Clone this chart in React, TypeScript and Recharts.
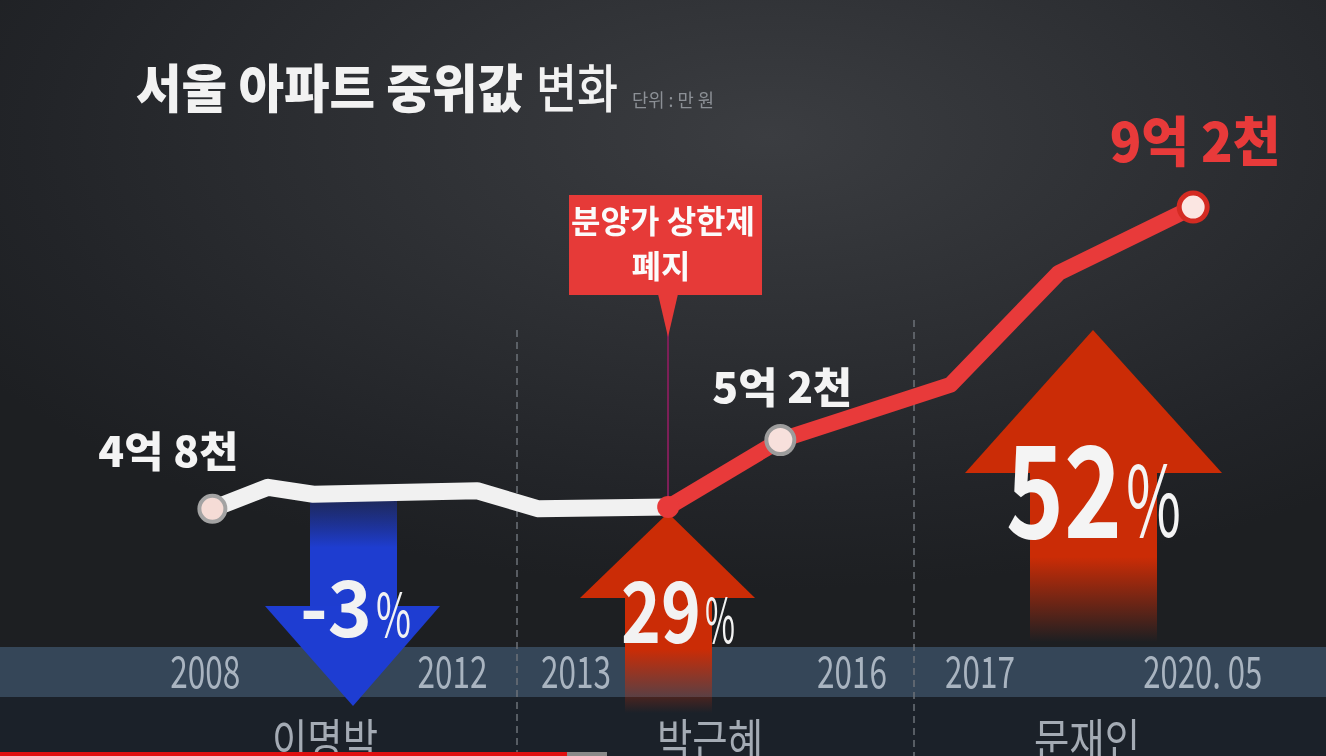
import { Line, LineChart, XAxis, YAxis } from "recharts";

// time axis in fractional years, values in 만원
const periods = [2008.0, 2008.7, 2009.27, 2011.33, 2012.1, 2013.73, 2015.14, 2017.28, 2018.64, 2020.33];
const beforeCap = [40200, 43900, 42700, 43300, 40200, 40500, null, null, null, null];
const afterCap = [null, null, null, null, null, 40500, 52000, 61500, 80700, 92000];
const pointLabels = ["4억 8천", "", "", "", "", "", "5억 2천", "", "", "9억 2천"];

const yearTicks = [2007.91, 2011.02, 2012.57, 2016.04, 2017.65, 2020.45];
const yearLabels = ["2008", "2012", "2013", "2016", "2017", "2020. 05"];

const presidents = ["이명박", "박근혜", "문재인"];
const changes = ["-3", "29", "52"];

const rows = periods.map((t, i) => ({
  t,
  white: beforeCap[i],
  red: afterCap[i],
}));

const FONT = "'Noto Sans CJK KR', 'Noto Sans', sans-serif";
const RED = "#e83a3a";
const ARROW_RED = "#cb2c06";

function YearTick(props: any) {
  const { x, index } = props;
  const label = yearLabels[index] ?? "";
  return (
    <text
      x={x}
      y={688}
      textAnchor="middle"
      fontFamily={FONT}
      fontSize={44}
      fill="#a9b4c0"
      textLength={label.length > 4 ? 119 : 70}
      lengthAdjust="spacingAndGlyphs"
    >
      {label}
    </text>
  );
}

function renderDot(props: any) {
  const { cx, cy, index, dataKey } = props;
  const key = `${dataKey}-${index}`;
  if (cx == null || cy == null) return <g key={key} />;
  const label = pointLabels[index];

  if (dataKey === "white") {
    if (index !== 0) return <g key={key} />;
    return (
      <g key={key}>
        <circle cx={cx} cy={cy} r={13} fill="#f5dcd6" stroke="#a3a3a3" strokeWidth={4} />
        <text
          x={cx - 44}
          y={cy - 42}
          textAnchor="middle"
          fontFamily={FONT}
          fontWeight={800}
          fontSize={42}
          fill="#f4f4f4"
          textLength={140}
          lengthAdjust="spacingAndGlyphs"
        >
          {label}
        </text>
      </g>
    );
  }

  // red series
  if (index === 5) {
    return <circle key={key} cx={cx} cy={cy} r={11} fill={RED} />;
  }
  if (index === 6) {
    return (
      <g key={key}>
        <circle cx={cx} cy={cy} r={14} fill="#f7e0dc" stroke="#9c9c9c" strokeWidth={4} />
        <text
          x={cx + 2}
          y={cy - 37}
          textAnchor="middle"
          fontFamily={FONT}
          fontWeight={800}
          fontSize={42}
          fill="#f4f4f4"
          textLength={140}
          lengthAdjust="spacingAndGlyphs"
        >
          {label}
        </text>
      </g>
    );
  }
  if (index === 9) {
    return (
      <g key={key}>
        <circle cx={cx} cy={cy} r={14} fill="#fbe6e2" stroke="#d42b22" strokeWidth={5} />
        <text
          x={cx + 2}
          y={cy - 45}
          textAnchor="middle"
          fontFamily={FONT}
          fontWeight={800}
          fontSize={54}
          fill={RED}
          textLength={171}
          lengthAdjust="spacingAndGlyphs"
        >
          {label}
        </text>
      </g>
    );
  }
  return <g key={key} />;
}

function Backdrop() {
  return (
    <svg width={1326} height={756} style={{ position: "absolute", left: 0, top: 0 }}>
      <defs>
        <linearGradient id="blueStem" x1="0" y1="0" x2="0" y2="1">
          <stop offset="0%" stopColor="#1c36b8" stopOpacity={0.35} />
          <stop offset="45%" stopColor="#1e3dd0" stopOpacity={1} />
          <stop offset="100%" stopColor="#1e3dd0" stopOpacity={1} />
        </linearGradient>
        <linearGradient id="redStemA" x1="0" y1="0" x2="0" y2="1">
          <stop offset="0%" stopColor={ARROW_RED} stopOpacity={1} />
          <stop offset="45%" stopColor={ARROW_RED} stopOpacity={1} />
          <stop offset="100%" stopColor={ARROW_RED} stopOpacity={0} />
        </linearGradient>
        <linearGradient id="redStemB" x1="0" y1="0" x2="0" y2="1">
          <stop offset="0%" stopColor={ARROW_RED} stopOpacity={1} />
          <stop offset="50%" stopColor={ARROW_RED} stopOpacity={1} />
          <stop offset="100%" stopColor={ARROW_RED} stopOpacity={0} />
        </linearGradient>
      </defs>

      {/* title */}
      <text x={136} y={108} fontFamily={FONT} fontWeight={900} fontSize={52} fill="#f2f2f2" textLength={387} lengthAdjust="spacingAndGlyphs">
        서울 아파트 중위값
      </text>
      <text x={536} y={108} fontFamily={FONT} fontWeight={500} fontSize={52} fill="#f2f2f2" textLength={82} lengthAdjust="spacingAndGlyphs">
        변화
      </text>
      <text x={632} y={107} fontFamily={FONT} fontSize={18} fill="#8c9096" textLength={82} lengthAdjust="spacingAndGlyphs">
        단위 : 만 원
      </text>

      {/* bottom band */}
      <rect x={0} y={647} width={1326} height={50} fill="#354658" />
      <rect x={0} y={697} width={1326} height={59} fill="#1b2129" />

      {/* period dividers */}
      <line x1={517} y1={330} x2={517} y2={756} stroke="#6c7178" strokeWidth={1.5} strokeDasharray="7 5" />
      <line x1={914} y1={320} x2={914} y2={756} stroke="#6c7178" strokeWidth={1.5} strokeDasharray="7 5" />

      {/* -3% arrow */}
      <rect x={310} y={498} width={87} height={110} fill="url(#blueStem)" />
      <polygon points="265,606 440,606 353,706" fill="#1e3dd2" />
      <text x={300} y={637} fontFamily={FONT} fontWeight={700} fontSize={78} fill="#f2f2f2" textLength={72} lengthAdjust="spacingAndGlyphs">
        {changes[0]}
      </text>
      <text x={376} y={637} fontFamily={FONT} fontSize={60} fill="#f2f2f2" textLength={35} lengthAdjust="spacingAndGlyphs">
        %
      </text>

      {/* 29% arrow */}
      <rect x={625} y={597} width={87} height={116} fill="url(#redStemA)" />
      <polygon points="668,513 755,598 580,598" fill={ARROW_RED} />
      <text x={621} y={643} fontFamily={FONT} fontWeight={700} fontSize={84} fill="#f2f2f2" textLength={80} lengthAdjust="spacingAndGlyphs">
        {changes[1]}
      </text>
      <text x={705} y={643} fontFamily={FONT} fontSize={62} fill="#f2f2f2" textLength={30} lengthAdjust="spacingAndGlyphs">
        %
      </text>

      {/* 52% arrow */}
      <rect x={1030} y={472} width={127} height={170} fill="url(#redStemB)" />
      <polygon points="1093,330 1222,473 965,473" fill={ARROW_RED} />
      <text x={1006} y={538} fontFamily={FONT} fontWeight={700} fontSize={127} fill="#f4f4f4" textLength={116} lengthAdjust="spacingAndGlyphs">
        {changes[2]}
      </text>
      <text x={1126} y={537} fontFamily={FONT} fontSize={98} fill="#f4f4f4" textLength={55} lengthAdjust="spacingAndGlyphs">
        %
      </text>

      {/* callout */}
      <line x1={668} y1={330} x2={668} y2={502} stroke="#7c1f57" strokeWidth={2} />
      <rect x={569} y={195} width={193} height={100} fill="#e63a38" />
      <polygon points="658,294 678,294 668,337" fill="#e63a38" />
      <text x={663} y={233} textAnchor="middle" fontFamily={FONT} fontWeight={700} fontSize={32} fill="#fbfbfb">
        분양가 상한제
      </text>
      <text x={661} y={278} textAnchor="middle" fontFamily={FONT} fontWeight={700} fontSize={32} fill="#fbfbfb">
        폐지
      </text>

      {/* presidents */}
      {presidents.map((name, i) => (
        <text
          key={name}
          x={[325, 710, 1087][i]}
          y={757}
          textAnchor="middle"
          fontFamily={FONT}
          fontSize={46}
          fill="#a4abb4"
          textLength={106}
          lengthAdjust="spacingAndGlyphs"
        >
          {name}
        </text>
      ))}

      {/* video progress bar */}
      <rect x={0} y={752} width={567} height={4} fill="#e01010" />
      <rect x={567} y={752} width={40} height={4} fill="#8a8a8a" />
    </svg>
  );
}

export default function App() {
  return (
    <div
      style={{
        position: "fixed",
        left: 0,
        top: 0,
        width: 1326,
        height: 756,
        overflow: "hidden",
        background:
          "radial-gradient(ellipse 70% 60% at 58% 18%, #3b3d41 0%, #2d2f33 45%, #222428 80%, #1d1f22 100%)",
        fontFamily: FONT,
      }}
    >
      <Backdrop />
      <div style={{ position: "absolute", left: 0, top: 0 }}>
        <LineChart width={1326} height={756} data={rows} margin={{ top: 44, right: 0, bottom: 0, left: 0 }}>
          <XAxis
            type="number"
            dataKey="t"
            domain={[2005.33, 2022]}
            allowDataOverflow
            ticks={yearTicks}
            interval={0}
            tick={YearTick}
            axisLine={false}
            tickLine={false}
            height={13}
          />
          <YAxis hide domain={[0, 120000]} allowDataOverflow />
          <Line
            type="linear"
            dataKey="white"
            stroke="#f1f1f1"
            strokeWidth={17}
            strokeLinejoin="round"
            dot={renderDot}
            activeDot={false}
            isAnimationActive={false}
          />
          <Line
            type="linear"
            dataKey="red"
            stroke={RED}
            strokeWidth={16}
            strokeLinejoin="round"
            dot={renderDot}
            activeDot={false}
            isAnimationActive={false}
          />
        </LineChart>
      </div>
    </div>
  );
}
